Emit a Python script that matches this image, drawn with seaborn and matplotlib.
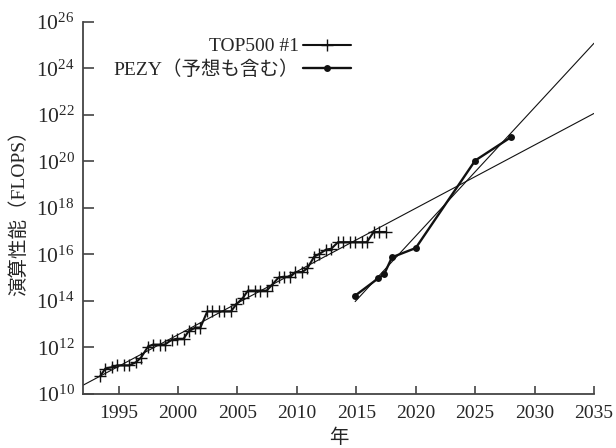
import numpy as np
import matplotlib
matplotlib.use('Agg')
import matplotlib.pyplot as plt
import seaborn as sns
from matplotlib.ticker import LogFormatterSciNotation, NullLocator

# TOP500 1位の実効性能 (6月/11月のリスト)
top500_years = [1993.46, 1993.88, 1994.46, 1994.88, 1995.46, 1995.88, 1996.46, 1996.88,
                1997.46, 1997.88, 1998.46, 1998.88, 1999.46, 1999.88, 2000.46, 2000.88,
                2001.46, 2001.88, 2002.46, 2002.88, 2003.46, 2003.88, 2004.46, 2004.88,
                2005.46, 2005.88, 2006.46, 2006.88, 2007.46, 2007.88, 2008.46, 2008.88,
                2009.46, 2009.88, 2010.46, 2010.88, 2011.46, 2011.88, 2012.46, 2012.88,
                2013.46, 2013.88, 2014.46, 2014.88, 2015.46, 2015.88, 2016.46, 2016.88,
                2017.46]
top500_flops = [59.7e9, 124.5e9, 143.4e9, 170.4e9, 170.4e9, 170.4e9, 232.4e9, 368.2e9,
                1.068e12, 1.338e12, 1.338e12, 1.338e12, 2.121e12, 2.379e12, 2.379e12, 4.938e12,
                7.226e12, 7.226e12, 35.86e12, 35.86e12, 35.86e12, 35.86e12, 35.86e12, 70.72e12,
                136.8e12, 280.6e12, 280.6e12, 280.6e12, 280.6e12, 478.2e12, 1.026e15, 1.105e15,
                1.105e15, 1.759e15, 1.759e15, 2.566e15, 8.162e15, 10.51e15, 16.32e15, 17.59e15,
                33.86e15, 33.86e15, 33.86e15, 33.86e15, 33.86e15, 33.86e15, 93.01e15, 93.01e15,
                93.01e15]

# PEZY (予想を含む)
pezy_years = [2014.9, 2016.85, 2017.35, 2018.0, 2020.0, 2025.0, 2028.0]
pezy_flops = [1.7e14, 9.5e14, 1.45e15, 7.6e15, 1.9e16, 1.1e20, 1.1e21]

year_ticks = [1995, 2000, 2005, 2010, 2015, 2020, 2025, 2030, 2035]
flops_ticks = [1e10, 1e12, 1e14, 1e16, 1e18, 1e20, 1e22, 1e24, 1e26]

sns.set_style('ticks')
plt.rcParams['font.family'] = ['Liberation Serif', 'Noto Sans CJK JP']
plt.rcParams['mathtext.fontset'] = 'custom'
plt.rcParams['mathtext.rm'] = 'Liberation Serif'
plt.rcParams['font.size'] = 14

ink = '#111111'
fig = plt.figure(figsize=(6.16, 4.48), dpi=100)
ax = fig.add_axes([83 / 616, 1 - 394 / 448, 511 / 616, 372 / 448])

# 近似直線 (対数で最小二乗)
k1 = np.polyfit(top500_years, np.log10(top500_flops), 1)
k2 = np.polyfit(pezy_years, np.log10(pezy_flops), 1)
xs1 = np.array([1990, 2035])
xs2 = np.array([pezy_years[0], 2035])
ax.plot(xs1, 10 ** np.polyval(k1, xs1), color=ink, lw=0.8)
ax.plot(xs2, 10 ** np.polyval(k2, xs2), color=ink, lw=0.8)

sns.lineplot(x=top500_years, y=top500_flops, ax=ax, color=ink, lw=1.5,
             marker='+', markersize=8, markeredgewidth=1.0, markeredgecolor=ink,
             label='TOP500 #1')
sns.lineplot(x=pezy_years, y=pezy_flops, ax=ax, color=ink, lw=1.7,
             marker='o', markersize=5, markeredgewidth=0, markerfacecolor=ink,
             label='PEZY（予想も含む）')

ax.set_yscale('log')
ax.set_xlim(1992, 2035)
ax.set_ylim(1e10, 1e26)
ax.set_xticks(year_ticks)
ax.set_yticks(flops_ticks)
ax.yaxis.set_major_formatter(LogFormatterSciNotation())
ax.yaxis.set_minor_locator(NullLocator())
ax.tick_params(axis='y', direction='in', length=8, width=1.2, color='#444444', pad=6,
               labelsize=15.5)
ax.tick_params(axis='x', direction='in', length=6, width=1.2, color='#444444', pad=8)

for s in ['top', 'right']:
    ax.spines[s].set_visible(False)
for s in ['left', 'bottom']:
    ax.spines[s].set_color('#444444')
    ax.spines[s].set_linewidth(1.3)

ax.set_xlabel('年')
ax.set_ylabel('演算性能（FLOPS）')
ax.xaxis.set_label_coords(0.5, -0.092)
ax.yaxis.set_label_coords(-0.108, 0.5)

ax.legend(loc='upper right', bbox_to_anchor=(361 / 616, 1 - 28 / 448),
          bbox_transform=fig.transFigure, frameon=False, markerfirst=False,
          handlelength=2.5, handletextpad=0.2, labelspacing=0.25, borderpad=0)

fig.savefig('out.png', dpi=100)
